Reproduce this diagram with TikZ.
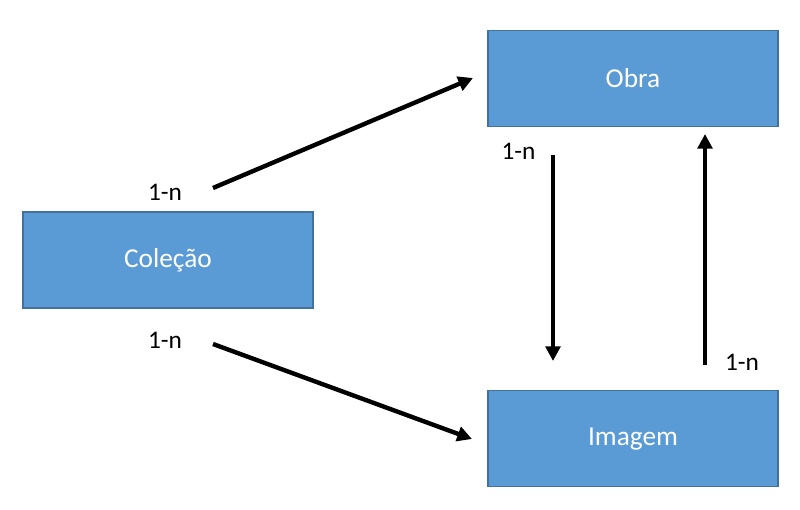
\documentclass[tikz,border=0pt]{standalone}
\usepackage{fontspec}
\setmainfont{Carlito}
\usetikzlibrary{arrows.meta}
\definecolor{boxfill}{HTML}{5B9BD5}
\definecolor{boxdraw}{HTML}{41719C}
\begin{document}
\begin{tikzpicture}[x=0.75pt,y=-0.75pt,
  entity/.style={draw=boxdraw,fill=boxfill,line width=0.9pt,minimum width=217.5pt,minimum height=72pt,inner sep=0pt,text=white,font=\fontsize{20.5}{24}\selectfont},
  card/.style={anchor=base,inner sep=0pt,font=\fontsize{19}{22}\selectfont},
  rel/.style={line width=3.3pt,-{Triangle[length=11pt,width=11pt]}}]
\useasboundingbox (0,0) rectangle (800,510);
\node[entity] (obra) at (633,78.5) {\raisebox{-1.5pt}{Obra}};
\node[entity] (colecao) at (168,260) {\raisebox{-1.5pt}{Coleção}};
\node[entity] (imagem) at (633,438.7) {\raisebox{-2pt}{Imagem}};
\node[card] (l1) at (165,200) {1-n};
\node[card] (l2) at (165,348) {1-n};
\node[card] (l3) at (518.5,159) {1-n};
\node[card] (l4) at (742,370) {1-n};
\coordinate (a1s) at (213,188);
\coordinate (a1e) at (473,78);
\coordinate (a2s) at (213,344);
\coordinate (a2e) at (472,439);
\coordinate (a3s) at (553,155);
\coordinate (a3e) at (553,361);
\coordinate (a4s) at (705,365);
\coordinate (a4e) at (705,134);
\draw[rel] (a1s) -- (a1e);
\draw[rel] (a2s) -- (a2e);
\draw[rel] (a3s) -- (a3e);
\draw[rel] (a4s) -- (a4e);
\end{tikzpicture}
\end{document}
